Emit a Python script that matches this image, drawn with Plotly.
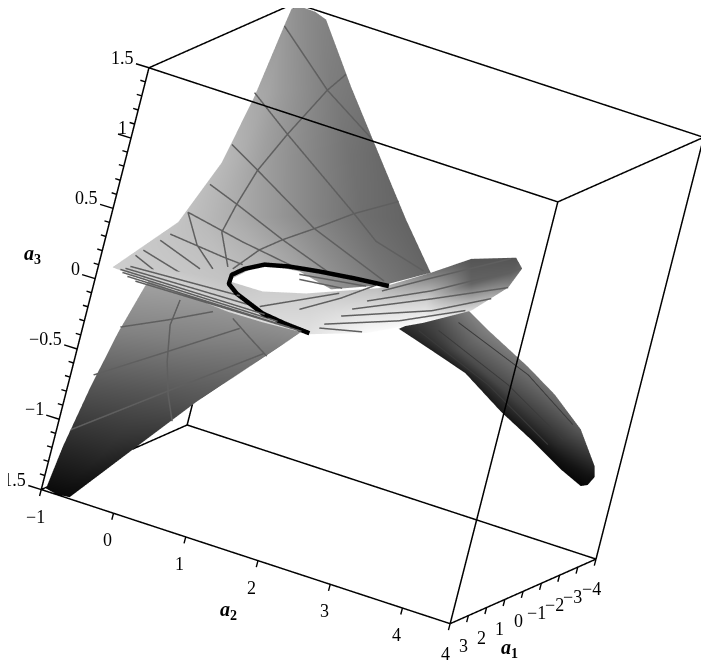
import plotly.graph_objects as go

# upper sheet
U_a1 = [[-3.59,-3.76,-3.83,-3.855,-3.94,-3.92,-3.78],
        [-2.49,-2.57,-2.66,-2.83,-2.93,-3.04,-3.15],
        [-1.38,-1.49,-1.62,-1.79,-1.97,-2.14,-2.32],
        [0.525,0.364,-0.035,-0.267,-0.687,-0.949,-1.185],
        [3.27,1.522,1.08,0.692,0.365,-0.14,-0.631]]
U_a2 = [[-0.98,-0.99,-0.99,-0.956,-0.87,-0.73,-0.56],
        [-0.91,-0.783,-0.648,-0.505,-0.342,-0.164,0.033],
        [-0.886,-0.71,-0.494,-0.216,0.081,0.386,0.71],
        [-0.859,-0.592,-0.281,0.125,0.496,0.953,1.389],
        [-0.97,0.033,0.303,0.68,1.031,1.522,1.924]]
U_a3 = [[1.366,1.43,1.47,1.49,1.495,1.495,1.48],
        [0.945,0.975,1.01,1.042,1.088,1.124,1.149],
        [0.54,0.582,0.63,0.688,0.75,0.80,0.83],
        [0.23,0.285,0.344,0.409,0.458,0.531,0.581],
        [0.045,0.033,0.188,0.182,0.103,0.198,0.334]]
U_gray = [[150,150,148,145,140,135,130],
          [170,165,155,145,135,125,120],
          [185,175,160,145,130,115,105],
          [195,185,170,150,130,110,100],
          [205,195,180,165,150,120,100]]

# lower sheet
L_a1 = [[2.33,1.337,0.588],[2.84,2.01,1.017],[3.26,2.625,2.185],[3.646,3.376,3.113],[3.89,3.99,3.99]]
L_a2 = [[-0.687,0.071,0.932],[-0.795,0.003,0.714],[-0.875,-0.297,0.173],[-0.945,-0.54,-0.266],[-0.97,-0.812,-0.66]]
L_a3 = [[-0.025,-0.04,-0.166],[-0.406,-0.37,-0.339],[-0.788,-0.762,-0.753],[-1.205,-1.213,-1.139],[-1.493,-1.499,-1.49]]
L_gray = [[165,160,150],[130,128,125],[85,85,85],[40,40,40],[12,10,10]]

# ribbon
R_a1 = [[3.343,3.063,2.785,2.609,2.366,2.027,1.67,1.361,1.087,0.956],
        [3.343,3.037,2.746,2.568,2.313,1.948,1.591,1.291,1.03,0.956],
        [3.343,3.014,2.705,2.529,2.28,1.842,1.501,1.227,0.963,0.956]]
R_a2 = [[-0.956,-0.294,0.371,0.762,1.279,1.864,2.409,2.856,3.155,3.234],
        [-0.956,-0.327,0.321,0.709,1.209,1.832,2.36,2.766,3.135,3.234],
        [-0.956,-0.357,0.267,0.659,1.112,1.836,2.313,2.682,3.136,3.234]]
R_a3 = [[0.051,0.007,-0.043,-0.054,-0.054,0.047,0.203,0.357,0.562,0.705],
        [0.051,0.07,0.051,0.046,0.078,0.193,0.359,0.527,0.662,0.705],
        [0.051,0.127,0.152,0.141,0.199,0.35,0.53,0.684,0.764,0.705]]
R_gray = [[205,215,220,220,225,250,250,220,140,100],
          [205,208,205,210,215,225,205,100,95,100],
          [205,200,195,205,205,190,120,85,85,100]]

# tail
T_a1 = [[-0.647,-1.081,-1.518,-1.978,-2.413,-2.698,-2.82],
        [-0.434,-0.867,-1.297,-1.777,-2.23,-2.592,-2.76],
        [-0.226,-0.699,-1.137,-1.62,-2.097,-2.494,-2.716]]
T_a2 = [[2.315,2.658,3.133,3.431,3.744,3.954,3.964],
        [2.061,2.441,2.888,3.215,3.541,3.792,3.919],
        [1.801,2.147,2.513,2.941,3.27,3.619,3.852]]
T_a3 = [[0.21,0.039,-0.156,-0.323,-0.535,-0.773,-0.855],
        [0.066,-0.132,-0.318,-0.474,-0.671,-0.82,-0.917],
        [-0.065,-0.18,-0.297,-0.519,-0.68,-0.848,-0.935]]
T_gray = [[130,130,120,110,90,40,15],[70,80,70,60,40,20,10],[40,30,30,25,15,10,5]]

# self-intersection curve
C_a1 = [1.854,2.037,2.222,2.383,2.524,2.651,2.742,2.782,2.761,2.661,2.558,2.439]
C_a2 = [1.944,1.563,1.184,0.864,0.603,0.413,0.302,0.301,0.416,0.746,1.003,1.29]
C_a3 = [0.386,0.379,0.366,0.349,0.321,0.262,0.204,0.142,0.092,0.009,-0.019,-0.041]

# parameter lines on the two large sheets (a1, a2, a3 triples)
SHEET_LINES = [
    [(-3.44,-0.95,1.38),(-2.82,-0.167,1.108),(-2.35,0.562,0.927)],
    [(-2.31,-0.888,0.982),(-1.91,-0.324,0.817),(-0.71,0.875,0.55),(-0.468,1.246,0.438),(-0.408,1.88,0.351)],
    [(-1.446,-0.837,0.673),(-1.12,-0.413,0.589),(-0.253,0.554,0.408),(0.037,1.543,0.241)],
    [(-0.394,-0.778,0.461),(-0.163,-0.376,0.41),(0.41,0.348,0.328),(0.502,1.052,0.208)],
    [(0.554,-0.772,0.318),(0.76,-0.032,0.26),(0.874,0.708,0.212)],
    [(-3.155,-0.062,1.222),(-2.82,-0.167,1.108),(-1.91,-0.324,0.817),(-1.12,-0.413,0.589),(-0.163,-0.376,0.41),(0.782,-0.292,0.282),(1.547,0.016,0.137)],
    [(-1.265,1.244,0.675),(-0.71,0.875,0.55),(-0.253,0.554,0.408),(0.41,0.348,0.328),(0.906,0.209,0.259),(1.561,0.08,0.136)],
    [(0.554,-0.772,0.318),(1.334,-0.433,0.194),(1.827,-0.096,0.117)],
    [(2.222,-0.862,0.127),(2.318,-0.339,0.063)],
    [(1.686,-0.798,0.179),(2.015,-0.207,0.107)],
    [(1.351,-0.764,0.21),(1.289,-0.117,0.168),(1.455,0.161,0.175)],
    [(2.543,-0.878,0.106),(2.636,-0.525,0.038)],
    [(0.887,0.724,0.181),(0.155,1.376,0.179)],
    [(0.9,0.741,0.149),(0.411,1.161,0.138)],
    [(2.927,-0.771,-0.362),(2.331,-0.362,-0.267),(1.75,0.014,-0.17)],
    [(3.394,-0.85,-0.691),(2.568,-0.238,-0.456),(1.561,0.33,-0.24)],
    [(3.743,-0.887,-1.068),(2.782,-0.085,-0.697),(1.368,0.647,-0.367)],
    [(2.098,-0.327,-0.132),(2.407,-0.311,-0.288),(2.556,-0.212,-0.522),(2.747,-0.071,-0.719),(2.867,0.073,-0.874)],
    [(1.577,0.226,-0.188),(1.498,0.415,-0.27),(1.326,0.671,-0.386)],
]
# lengthwise lines on the ribbon
RIBBON_LINES = [
    [(3.311,-0.763,0.093),(2.749,0.453,0.084)],
    [(3.346,-0.807,0.073),(2.704,0.608,0.041)],
    [(3.378,-0.855,0.058),(2.652,0.77,0.006)],
    [(3.373,-0.824,0.042),(2.594,0.925,-0.017)],
    [(3.354,-0.76,0.025),(2.54,1.067,-0.035)],
    [(3.32,-0.662,0.008),(2.481,1.202,-0.041)],
    [(1.907,1.89,0.344),(1.583,2.355,0.506),(1.069,3.102,0.757)],
    [(2.02,1.771,0.256),(1.616,2.398,0.425),(1.037,3.238,0.71)],
    [(2.127,1.646,0.181),(1.637,2.425,0.374),(1.162,3.169,0.569)],
    [(2.209,1.557,0.119),(1.668,2.465,0.299),(1.288,3.033,0.472)],
    [(2.329,1.412,0.041),(1.885,2.163,0.182),(1.47,2.809,0.355)],
    [(2.368,1.374,0.008),(2.128,1.824,0.053)],
    [(2.435,1.108,0.094),(2.163,1.497,0.233),(1.906,1.837,0.383)],
    [(2.661,0.693,0.048),(2.163,1.461,0.26)],
]
# lengthwise lines on the tail
TAIL_LINES = [
    [(-0.591,2.389,0.071),(-1.423,3.173,-0.199),(-2.117,3.694,-0.493)],
    [(-0.417,2.219,-0.008),(-1.28,3.004,-0.295),(-2.171,3.615,-0.617)],
    [(-0.3,2.016,-0.041),(-1.089,2.815,-0.321),(-2.071,3.479,-0.674)],
]

a1_range = [-4, 4]
a2_range = [-1, 4.66]
a3_range = [-1.5, 1.5]
a1_ticks = [v/2 for v in range(-8, 9)]
a2_ticks = [v/2 for v in range(-2, 10)]
a3_ticks = [v/10 for v in range(-15, 16)]

# the a2 values above were first read on a frame taken as 5 units deep; the
# axis in fact runs on to 4.66, so they are restated on that axis here
def a2v(v):
    return -1 + (v + 1) * 5.66 / 5

def a2m(rows):
    return [[a2v(v) for v in row] for row in rows]

U_a2, L_a2, R_a2, T_a2 = a2m(U_a2), a2m(L_a2), a2m(R_a2), a2m(T_a2)
C_a2 = [a2v(v) for v in C_a2]

gray = [[0, "#000000"], [1, "#ffffff"]]
light = dict(ambient=1, diffuse=0, specular=0, roughness=1, fresnel=0)

fig = go.Figure()
for x, y, z, c in [(U_a1, U_a2, U_a3, U_gray), (L_a1, L_a2, L_a3, L_gray),
                   (R_a1, R_a2, R_a3, R_gray), (T_a1, T_a2, T_a3, T_gray)]:
    fig.add_trace(go.Surface(x=x, y=y, z=z, surfacecolor=c, cmin=0, cmax=255,
                             colorscale=gray, showscale=False, lighting=light,
                             hoverinfo="skip"))

def add_line(points, colour, width):
    fig.add_trace(go.Scatter3d(x=[p[0] for p in points], y=[p[1] for p in points],
                               z=[p[2] for p in points], mode="lines",
                               line=dict(color=colour, width=width), hoverinfo="skip"))

for lines, colour, width in [(SHEET_LINES, "#5f5f5f", 3), (RIBBON_LINES, "#5f5f5f", 3),
                             (TAIL_LINES, "#3a3a3a", 2)]:
    for ln in lines:
        add_line([(p[0], a2v(p[1]), p[2]) for p in ln], colour, width)

add_line(list(zip(C_a1, C_a2, C_a3)), "black", 9)

# the twelve edges of the frame, each its own line
x0, x1 = a1_range; y0, y1 = a2_range; z0, z1 = a3_range
for y in (y0, y1):
    for z in (z0, z1):
        add_line([(x0, y, z), (x1, y, z)], "black", 3)
for x in (x0, x1):
    for z in (z0, z1):
        add_line([(x, y0, z), (x, y1, z)], "black", 3)
for x in (x0, x1):
    for y in (y0, y1):
        add_line([(x, y, z0), (x, y, z1)], "black", 3)

tick_font = dict(family="Liberation Serif", size=18, color="black")
title_font = dict(family="Liberation Serif", size=20, color="black")

def axis(rng):
    # a sliver of slack keeps the frame lines clear of the clipping planes
    pad = (rng[1] - rng[0]) * 0.004
    return dict(range=[rng[0] - pad, rng[1] + pad], autorange=False, title=dict(text=""),
                showticklabels=False, showgrid=False, zeroline=False, showbackground=False,
                showspikes=False, showline=False, ticks="")

def num(v):
    return f"{v:g}".replace("-", "\u2212")

def is_major(v, step):
    return abs(v/step - round(v/step)) < 1e-9

def tick(x, y, z, ax, ay):
    return dict(x=x, y=y, z=z, text=" ", showarrow=True, arrowhead=0, arrowwidth=1.4,
                arrowcolor="black", ax=ax, ay=ay)

def text(x, y, z, s, xs, ys, anchor="center", font=tick_font):
    return dict(x=x, y=y, z=z, text=s, showarrow=False, xshift=xs, yshift=ys,
                xanchor=anchor, font=font)

notes = []
for v in a1_ticks:
    big = is_major(v, 1)
    notes.append(tick(v, y1, z0, -4.3 if big else -2, 16.5 if big else 8))
    if big:
        notes.append(text(v, y1, z0, num(v), -5, -30))
for v in a2_ticks:
    big = is_major(v, 1)
    notes.append(tick(x1, v, z0, -4.3 if big else -2, 16.5 if big else 8))
    if big:
        notes.append(text(x1, v, z0, num(v), -6, -27))
for v in a3_ticks:
    big = is_major(v, 0.5)
    notes.append(tick(x1, y0, v, -16 if big else -8, -5 if big else -2.5))
    if big:
        notes.append(text(x1, y0, v, num(v), -2 if v == 1 else -13, 10, "right"))
notes.append(text(2, y1, z0, "<b><i>a</i><sub>1</sub></b>", 23, -41, font=title_font))
notes.append(text(x1, 1, z0, "<b><i>a</i><sub>2</sub></b>", 43, -74, font=title_font))
notes.append(text(x1, y0, 0, "<b><i>a</i><sub>3</sub></b>", -63, 24, font=title_font))

k = 2.0
box = 1.36
dx, dy, dz = 0.02115, -0.00395, -0.0814
fig.update_layout(
    width=709, height=663, showlegend=False,
    margin=dict(l=0, r=0, t=0, b=0), paper_bgcolor="white",
    scene=dict(
        domain=dict(x=[0, 1], y=[0, 1]),
        aspectmode="manual", aspectratio=dict(x=box, y=box, z=box),
        xaxis=axis(a1_range), yaxis=axis(a2_range), zaxis=axis(a3_range),
        annotations=notes,
        camera=dict(projection=dict(type="orthographic"),
                    eye=dict(x=0.935*k+dx, y=0.273*k+dy, z=0.230*k+dz),
                    up=dict(x=-0.144, y=-0.300, z=0.944),
                    center=dict(x=dx, y=dy, z=dz)),
    ),
)
fig.write_html("out.html")
